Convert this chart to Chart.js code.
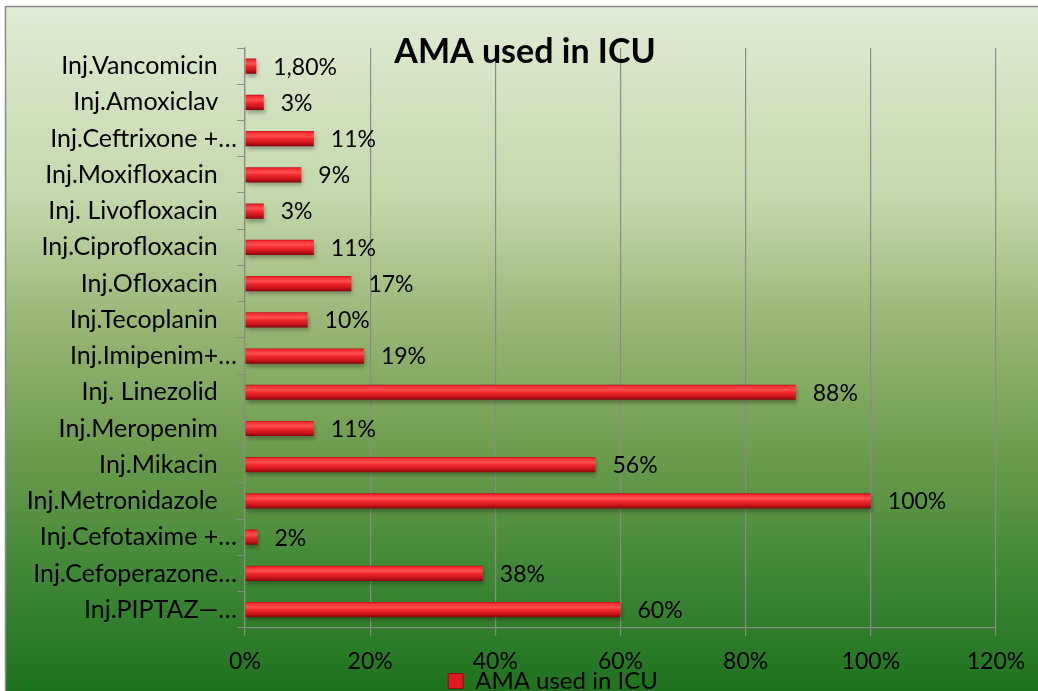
<!DOCTYPE html>
<html>
<head>
<meta charset="utf-8">
<script src="https://cdn.jsdelivr.net/npm/chart.js@4.4.1/dist/chart.umd.min.js"></script>
<style>
  html, body { margin: 0; padding: 0; background: #fff; }
  #wrap { width: 1038px; height: 691px; position: relative; }
</style>
</head>
<body>
<div id="wrap"><canvas id="myChart"></canvas></div>
<script>
// drug names, top to bottom as in the picture
const drugs = [
  'Inj.Vancomicin', 'Inj.Amoxiclav', 'Inj.Ceftrixone +…', 'Inj.Moxifloxacin',
  'Inj. Livofloxacin', 'Inj.Ciprofloxacin', 'Inj.Ofloxacin', 'Inj.Tecoplanin',
  'Inj.Imipenim+…', 'Inj. Linezolid', 'Inj.Meropenim', 'Inj.Mikacin',
  'Inj.Metronidazole', 'Inj.Cefotaxime +…', 'Inj.Cefoperazone…', 'Inj.PIPTAZ—…'
];
const usedPct = [1.8, 3, 11, 9, 3, 11, 17, 10, 19, 88, 11, 56, 100, 2, 38, 60];
const xTicks = [0, 20, 40, 60, 80, 100, 120];
const seriesName = 'AMA used in ICU';

const FONT = 'Lato';
const grid = '#8a8a8a';
const barPct = 0.42;

const background = {
  id: 'background',
  beforeDraw(chart) {
    const ctx = chart.ctx;
    const w = chart.width, h = chart.height;
    ctx.save();
    ctx.fillStyle = '#fff';
    ctx.fillRect(0, 0, w, h);
    const g = ctx.createLinearGradient(0, 6, 0, h);
    g.addColorStop(0, '#e0ebd4');
    g.addColorStop(0.28, '#c3d8ab');
    g.addColorStop(0.47, '#97b574');
    g.addColorStop(0.66, '#6a9b4c');
    g.addColorStop(0.84, '#3d8635');
    g.addColorStop(1, '#1e721e');
    ctx.fillStyle = g;
    ctx.fillRect(5, 6, w, h);
    ctx.strokeStyle = '#8a8a8a';
    ctx.lineWidth = 1.5;
    ctx.strokeRect(5.5, 6.5, w + 10, h + 10);
    ctx.restore();
  },
  afterLayout(chart) {
    // move title and legend to where the original puts them
    const t = chart.titleBlock;
    t.top += 24.4; t.bottom += 24.4; t.left += 22; t.right += 22;
    const l = chart.legend;
    l.left += 50; l.right += 50;
    l.top += 12; l.bottom += 12;
  }
};

function barFill(c) {
  const ch = c.chart;
  const y = ch.scales.y;
  if (!y || !y.height) return '#e01c24';
  const cy = y.getPixelForValue(c.dataIndex);
  const half = (y.height / drugs.length) * barPct / 2;
  const g = ch.ctx.createLinearGradient(0, cy - half, 0, cy + half);
  g.addColorStop(0, '#b8101a');
  g.addColorStop(0.1, '#f42c32');
  g.addColorStop(0.35, '#ff5050');
  g.addColorStop(0.5, '#f42a30');
  g.addColorStop(0.8, '#c8121a');
  g.addColorStop(1, '#82040c');
  return g;
}

const barLook = {
  id: 'barLook',
  beforeDatasetsDraw(chart) {
    const ctx = chart.ctx;
    ctx.save();
    ctx.shadowColor = 'rgba(0,0,0,0.3)';
    ctx.shadowOffsetY = 3;
    ctx.shadowOffsetX = 1;
    ctx.shadowBlur = 4;
  },
  afterDatasetsDraw(chart) {
    const ctx = chart.ctx;
    ctx.restore();
    ctx.save();
    ctx.font = '23px ' + FONT;
    ctx.fillStyle = '#000';
    ctx.textAlign = 'left';
    ctx.textBaseline = 'middle';
    chart.getDatasetMeta(0).data.forEach((el, i) => {
      const v = usedPct[i];
      const txt = Number.isInteger(v) ? v + '%' : v.toFixed(2).replace('.', ',') + '%';
      ctx.fillText(txt, el.x + 17, el.y + 1);
    });
    ctx.restore();
  }
};

new Chart(document.getElementById('myChart').getContext('2d'), {
  type: 'bar',
  data: {
    labels: drugs,
    datasets: [{
      label: seriesName,
      data: usedPct,
      backgroundColor: barFill,
      borderWidth: 0,
      categoryPercentage: 1,
      barPercentage: barPct
    }]
  },
  options: {
    indexAxis: 'y',
    responsive: true,
    maintainAspectRatio: false,
    animation: false,
    layout: { padding: { left: 10, right: 42, top: 0, bottom: 0 } },
    plugins: {
      title: {
        display: true,
        text: seriesName,
        color: '#000',
        font: { family: FONT, size: 34, weight: 'bold', lineHeight: 1.2 },
        padding: { top: 7.2, bottom: 0 }
      },
      legend: {
        display: true,
        position: 'bottom',
        labels: {
          color: '#000',
          font: { family: FONT, size: 24 },
          boxWidth: 15,
          boxHeight: 15,
          padding: 0,
          generateLabels: () => [{
            text: seriesName,
            fillStyle: '#e01820',
            strokeStyle: '#8a0a10',
            lineWidth: 1,
            datasetIndex: 0
          }]
        }
      },
      tooltip: { enabled: false }
    },
    scales: {
      x: {
        min: 0,
        max: 120,
        afterBuildTicks: (scale) => { scale.ticks = xTicks.map(v => ({ value: v })); },
        afterFit: (scale) => {
          scale.height = 29.2;
          scale._computeLabelArea = () => null; // let tick labels overlap the legend
        },
        ticks: {
          color: '#000',
          font: { family: FONT, size: 23 },
          padding: 12,
          callback: (v) => v + '%'
        },
        grid: { color: grid, lineWidth: 1.2, tickLength: 8 },
        border: { color: grid, width: 1.2 }
      },
      y: {
        afterFit: (scale) => { scale.width = 235; },
        ticks: {
          color: '#000',
          font: { family: FONT, size: 25 },
          padding: 0,
          callback: function (v) {
            const s = this.getLabelForValue(v);
            return s.endsWith('…') ? s : s + '\u00a0\u00a0\u00a0';
          }
        },
        grid: { color: grid, drawOnChartArea: false, tickLength: 8, offset: true },
        border: { color: grid, width: 1.2 }
      }
    }
  },
  plugins: [background, barLook]
});
</script>
</body>
</html>
